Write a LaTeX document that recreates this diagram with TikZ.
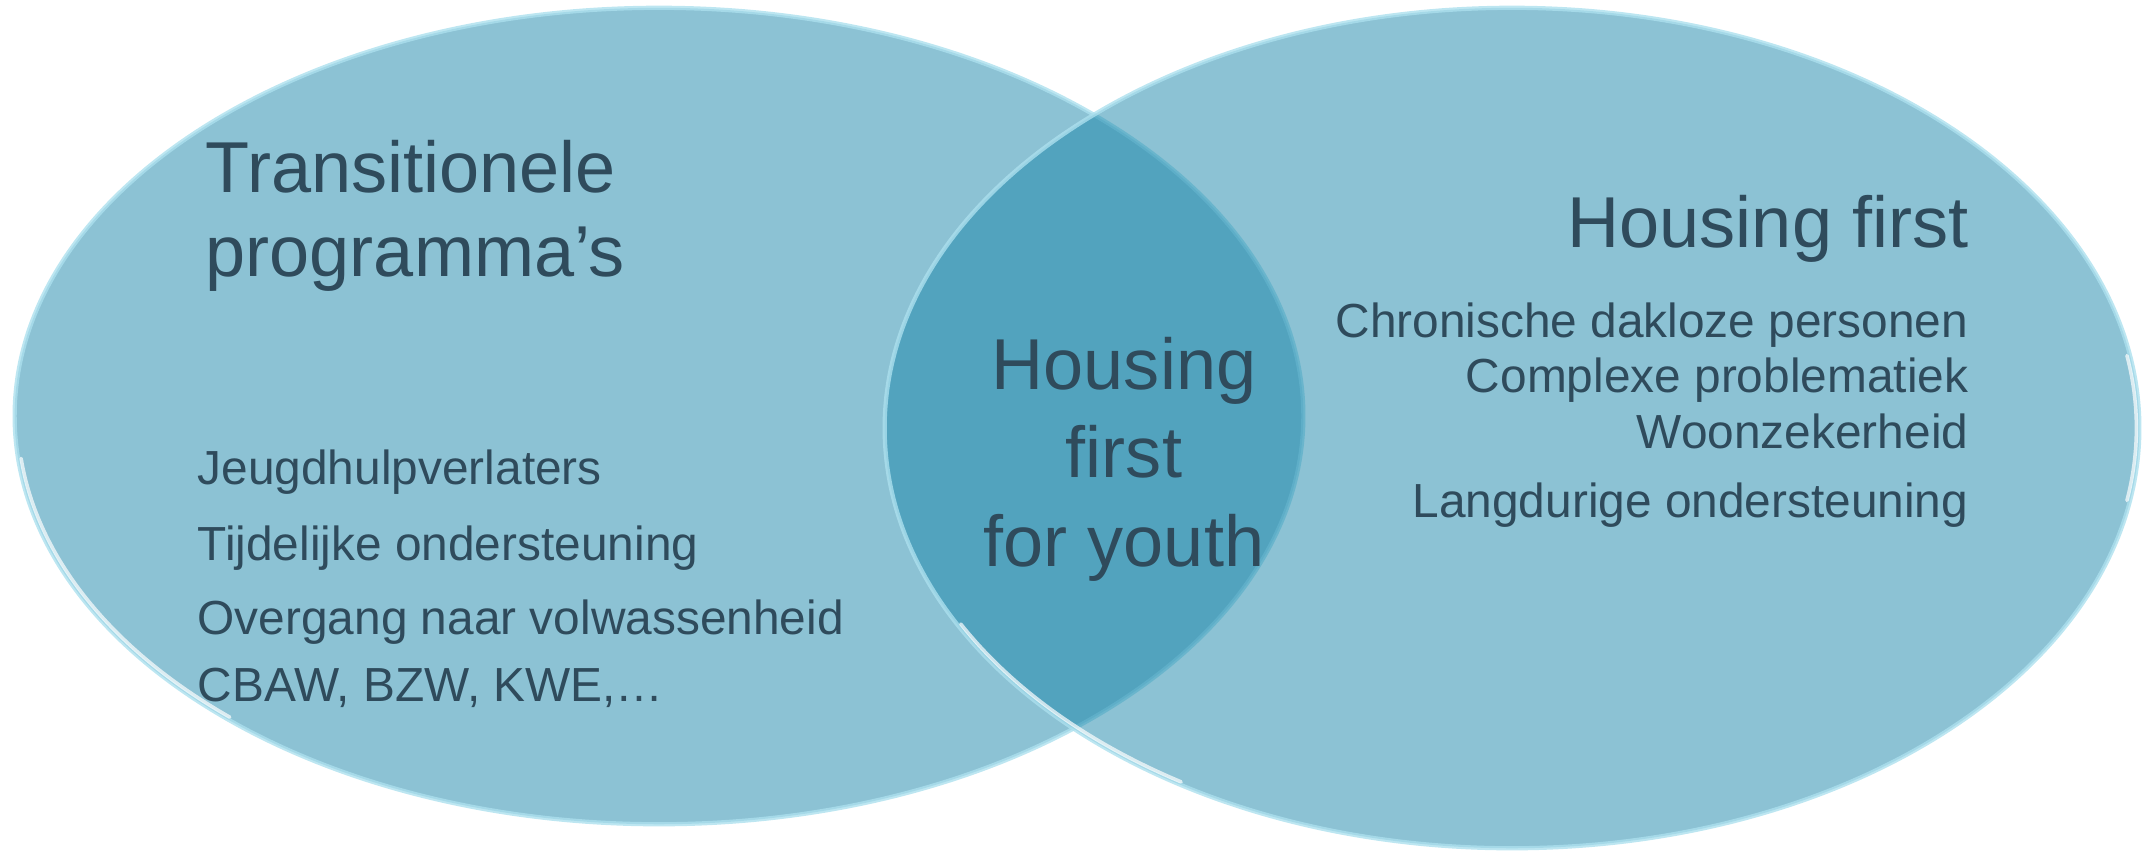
\documentclass[tikz,border=0pt]{standalone}
\usepackage{fontspec}
\setmainfont{Liberation Sans}
\usepackage{tikz}
\definecolor{venn}{RGB}{25,133,169}
\definecolor{rim}{RGB}{172,224,238}
\definecolor{ink}{RGB}{47,75,92}
\newcommand{\bigtxt}{\fontsize{20.5}{24}\selectfont}
\newcommand{\smalltxt}{\fontsize{13.6}{16}\selectfont}

\begin{document}
\begin{tikzpicture}[x=0.01cm, y=-0.01cm,
	set/.style={fill=venn, fill opacity=0.5, draw=rim, draw opacity=0.8, line width=1.2pt},
	glint/.style={draw=white, line width=1pt, line cap=round, opacity=0.7},
	title/.style={text=ink, inner sep=0pt, font=\bigtxt},
	item/.style={text=ink, inner sep=0pt, font=\smalltxt}]
			\useasboundingbox (0,0) rectangle (2154,850);
			% coordinates
			\coordinate (L) at (659,416);
			\coordinate (R) at (1512,428);
			% ellipses
			\filldraw[set] (L) ellipse [x radius=6.44cm, y radius=4.08cm];
			\filldraw[set] (R) ellipse [x radius=6.27cm, y radius=4.20cm];
			\draw[glint] (L) ++(186:6.41cm and 4.05cm) arc[start angle=186, end angle=228, x radius=6.41cm, y radius=4.05cm];
			\draw[glint] (R) ++(208:6.24cm and 4.17cm) arc[start angle=208, end angle=238, x radius=6.24cm, y radius=4.17cm];
			\draw[glint] (R) ++(-10:6.24cm and 4.17cm) arc[start angle=-10, end angle=10, x radius=6.24cm, y radius=4.17cm];
			% left set
			\node[title, anchor=base west] (trans) at (205,192) {Transitionele};
			\node[title, anchor=base west] (prog) at (205,276) {programma’s};
			\node[item, anchor=base west] (jeugd) at (197,484) {Jeugdhulpverlaters};
			\node[item, anchor=base west] (tijd) at (197,560) {Tijdelijke ondersteuning};
			\node[item, anchor=base west] (overg) at (197,634) {Overgang naar volwassenheid};
			\node[item, anchor=base west] (cbaw) at (197,701) {CBAW, BZW, KWE,…};
			% right set
			\node[title, anchor=base east] (hf) at (1969,247) {Housing first};
			\node[item, anchor=base east] (chron) at (1969,337) {Chronische dakloze personen};
			\node[item, anchor=base east] (compl) at (1969,392) {Complexe problematiek};
			\node[item, anchor=base east] (woon) at (1969,448) {Woonzekerheid};
			\node[item, anchor=base east] (lang) at (1969,517) {Langdurige ondersteuning};
			% overlap
			\node[title, anchor=base] (mid1) at (1124,389) {Housing};
			\node[title, anchor=base] (mid2) at (1124,477) {first};
			\node[title, anchor=base] (mid3) at (1124,566) {for youth};
		\end{tikzpicture}
\end{document}
